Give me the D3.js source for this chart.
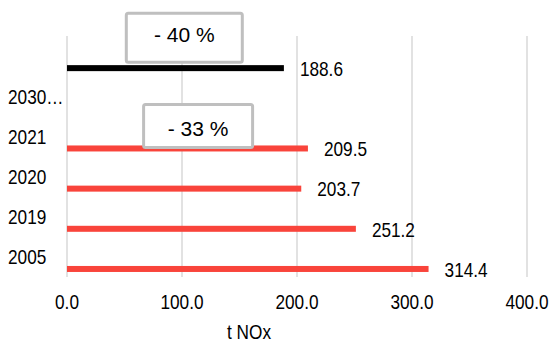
<!DOCTYPE html>
<html>
<head>
<meta charset="utf-8">
<script src="https://cdn.jsdelivr.net/npm/d3@7"></script>
<style>
  html, body { margin: 0; padding: 0; background: #fff; }
  text { font-family: "Liberation Sans", Arial, sans-serif; fill: #000; font-size: 21px; }
</style>
</head>
<body>
<svg id="chart" width="549" height="345"></svg>
<script>
// Category rows, top to bottom
const categories = ["", "2030…", "2021", "2020", "2019", "2005"];
// Emissions in t NOx per row (null = no bar)
const historic = [null, null, 209.5, 203.7, 251.2, 314.4];
const target = [188.6, null, null, null, null, null];
const xTicks = [0, 100, 200, 300, 400];
const reductionNotes = [
  { text: "- 40 %", row: "" },
  { text: "- 33 %", row: "2021" }
];

const svg = d3.select("#chart");
const margin = { left: 67, right: 22, top: 36, bottom: 68 };
const W = 549, H = 345;
const NARROW = 0.82; // condensed type

const x = d3.scaleLinear().domain([0, 400]).range([margin.left, W - margin.right]);
const y = d3.scaleBand().domain(categories).range([margin.top, H - margin.bottom]);
const barOffset = y.bandwidth() * 0.3;
const barH = 6;
const fmt = d3.format(".1f");

// text helper (condensed by default)
function label(parent, px, py, str, anchor, sx) {
  return parent.append("text")
    .attr("transform", `translate(${px},${py}) scale(${sx == null ? NARROW : sx},1)`)
    .attr("text-anchor", anchor || "start")
    .attr("dy", "0.35em")
    .text(str);
}

// vertical gridlines
svg.append("g").selectAll("line").data(xTicks).join("line")
  .attr("x1", d => x(d)).attr("x2", d => x(d))
  .attr("y1", y.range()[0]).attr("y2", y.range()[1])
  .attr("stroke", "#d9d9d9").attr("stroke-width", 1.5);

// x axis labels
const gx = svg.append("g");
xTicks.forEach(t => label(gx, x(t), 302, fmt(t), "middle"));

label(svg, x(200) - 48, 332, "t NOx", "middle");

// category labels
categories.forEach(c => label(svg, 8, y(c) + y.bandwidth() / 2, c));

function drawBars(values, color) {
  const rows = categories.map((c, i) => ({ c, v: values[i] })).filter(d => d.v != null);
  svg.append("g").selectAll("rect").data(rows).join("rect")
    .attr("x", x(0)).attr("width", d => x(d.v) - x(0))
    .attr("y", d => y(d.c) + y.bandwidth() / 2 + barOffset - barH / 2)
    .attr("height", barH).attr("fill", color);
  const g = svg.append("g");
  rows.forEach(d => label(g, x(d.v) + 16, y(d.c) + y.bandwidth() / 2 + barOffset + 0.5, fmt(d.v)));
}
drawBars(historic, "#f9443b");
drawBars(target, "#000000");

// reduction call-outs, placed above their bar rows
const boxes = [
  { dx: 102, w: 116, h: 49, dy: -30.5, ty: -2.5 },
  { dx: 114, w: 109, h: 43, dy: -22.5, ty: 2.5 }
];
reductionNotes.forEach((n, i) => {
  const b = boxes[i];
  const cy = y(n.row) + y.bandwidth() / 2 + barOffset + b.dy;
  const g = svg.append("g").attr("transform", `translate(${x(b.dx)},${cy})`);
  g.append("rect")
    .attr("x", -b.w / 2).attr("y", -b.h / 2)
    .attr("width", b.w).attr("height", b.h)
    .attr("rx", 2).attr("fill", "#fff").attr("stroke", "#bfbfbf").attr("stroke-width", 3);
  label(g, 0, b.ty, n.text, "middle", 1);
});
</script>
</body>
</html>
